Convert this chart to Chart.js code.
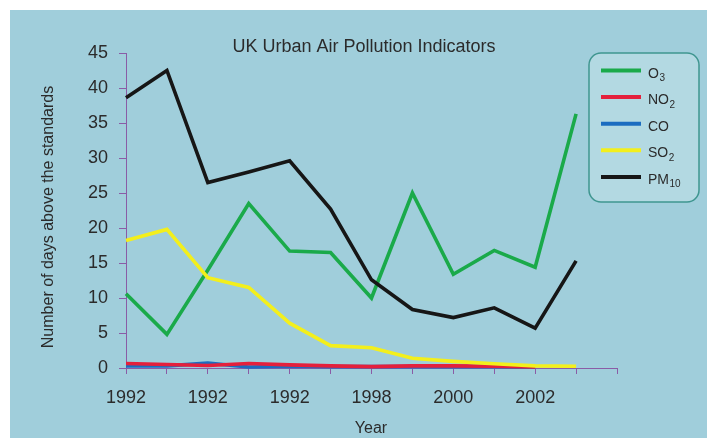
<!DOCTYPE html>
<html><head><meta charset="utf-8">
<style>html,body{margin:0;padding:0;background:#fff;overflow:hidden}#wrap{width:707px;height:438px;position:relative}</style>
<script src="https://cdn.jsdelivr.net/npm/chart.js@4/dist/chart.umd.min.js"></script>
</head><body>
<div id="wrap"><canvas id="c" width="707" height="438"></canvas></div>
<script>
const chartTitle = 'UK Urban Air Pollution Indicators';
const xTitle = 'Year';
const yTitle = 'Number of days above the standards';
const yearLabels = ['1992','','1992','','1992','','1998','','2000','','2002','',''];
const seriesBase = ['O','NO','CO','SO','PM'];
const seriesSub = ['3','2','','2','10'];
const o3   = [10.6, 4.8, 14.0, 23.5, 16.7, 16.5, 10.0, 25.0, 13.4, 16.8, 14.4, 36.3];
const no2  = [0.65, 0.5, 0.35, 0.65, 0.45, 0.3, 0.2, 0.3, 0.3, 0.25, 0.15];
const co   = [0.3, 0.3, 0.7, 0.15, 0.25, 0.2, 0.2, 0.2, 0.2, 0.2, 0.1];
const so2  = [18.2, 19.8, 12.9, 11.5, 6.4, 3.2, 2.9, 1.4, 0.95, 0.6, 0.3, 0.25];
const pm10 = [38.6, 42.5, 26.5, 28.0, 29.6, 22.7, 12.6, 8.35, 7.2, 8.6, 5.7, 15.3];
const yMin = 0, yMax = 45, yStep = 5;

const FONT = '"Liberation Sans", Arial, Helvetica, sans-serif';
const AXIS = '#8a5ca6';
const TXT = '#2b2b2b';

const bgPlugin = {
  id: 'bg',
  beforeDraw(chart) {
    const ctx = chart.ctx;
    ctx.save();
    ctx.fillStyle = '#ffffff';
    ctx.fillRect(0, 0, chart.width, chart.height);
    ctx.fillStyle = '#a0cedb';
    ctx.fillRect(10, 10, chart.width - 10, chart.height - 10);
    ctx.restore();
  }
};

function roundRect(ctx, x, y, w, h, r) {
  ctx.beginPath();
  ctx.moveTo(x + r, y);
  ctx.lineTo(x + w - r, y);
  ctx.arcTo(x + w, y, x + w, y + r, r);
  ctx.lineTo(x + w, y + h - r);
  ctx.arcTo(x + w, y + h, x + w - r, y + h, r);
  ctx.lineTo(x + r, y + h);
  ctx.arcTo(x, y + h, x, y + h - r, r);
  ctx.lineTo(x, y + r);
  ctx.arcTo(x, y, x + r, y, r);
  ctx.closePath();
}

const textPlugin = {
  id: 'texts',
  afterDraw(chart) {
    const ctx = chart.ctx;
    ctx.save();
    ctx.fillStyle = TXT;
    ctx.textBaseline = 'alphabetic';
    ctx.textAlign = 'center';
    ctx.font = '18px ' + FONT;
    ctx.fillText(chartTitle, 364, 52);
    ctx.font = '16px ' + FONT;
    ctx.fillText(xTitle, 371, 433);
    ctx.save();
    ctx.translate(53, 217);
    ctx.rotate(-Math.PI / 2);
    ctx.fillText(yTitle, 0, 0);
    ctx.restore();

    // legend
    const lx = 589, ly = 53, lw = 110, lh = 149;
    roundRect(ctx, lx, ly, lw, lh, 12);
    ctx.fillStyle = '#b3d9e2';
    ctx.fill();
    ctx.lineWidth = 1.5;
    ctx.strokeStyle = '#3f9690';
    ctx.stroke();
    ctx.textAlign = 'left';
    chart.data.datasets.forEach((ds, i) => {
      const base = 77.5 + i * 26.6;
      const lineY = base - 7;
      ctx.strokeStyle = ds.borderColor;
      ctx.lineWidth = 4;
      ctx.lineCap = 'butt';
      ctx.beginPath();
      ctx.moveTo(601, lineY);
      ctx.lineTo(641, lineY);
      ctx.stroke();
      ctx.fillStyle = TXT;
      ctx.font = '14px ' + FONT;
      ctx.fillText(seriesBase[i], 648, base);
      const w = ctx.measureText(seriesBase[i]).width;
      if (seriesSub[i]) {
        ctx.font = '10px ' + FONT;
        ctx.fillText(seriesSub[i], 648 + w + 0.5, base + 3.5);
      }
    });
    ctx.restore();
  }
};

const mk = (label, data, color, order) => ({
  label, data, borderColor: color, backgroundColor: color, order,
  borderWidth: 3.6, pointRadius: 0, pointHoverRadius: 0, tension: 0,
  fill: false, borderJoinStyle: 'miter', clip: false
});

new Chart(document.getElementById('c'), {
  type: 'line',
  data: {
    labels: yearLabels,
    datasets: [
      mk('O3', o3, '#1aaa4a', 5),
      mk('NO2', no2, '#e4203c', 3),
      mk('CO', co, '#1b6cc0', 4),
      mk('SO2', so2, '#f3ef1c', 2),
      mk('PM10', pm10, '#161616', 1)
    ]
  },
  options: {
    responsive: false,
    animation: false,
    events: [],
    layout: { padding: { top: 53, right: 90, left: 0, bottom: 0 } },
    plugins: { legend: { display: false }, title: { display: false }, tooltip: { enabled: false } },
    scales: {
      x: {
        type: 'category',
        offset: false,
        afterFit(s) { s.height = 70; },
        grid: { display: true, drawOnChartArea: false, drawTicks: true, tickLength: 6, color: AXIS, lineWidth: 1 },
        border: { display: true, color: AXIS, width: 1 },
        ticks: { autoSkip: false, maxRotation: 0, minRotation: 0, padding: 13, color: TXT, font: { family: FONT, size: 18 } }
      },
      y: {
        min: yMin, max: yMax,
        afterFit(s) { s.width = 126; },
        grid: { display: true, drawOnChartArea: false, drawTicks: true, tickLength: 7, color: AXIS, lineWidth: 1 },
        border: { display: true, color: AXIS, width: 1 },
        ticks: { stepSize: yStep, padding: 11, color: TXT, font: { family: FONT, size: 18 } }
      }
    }
  },
  plugins: [bgPlugin, textPlugin]
});
</script>
</body></html>
